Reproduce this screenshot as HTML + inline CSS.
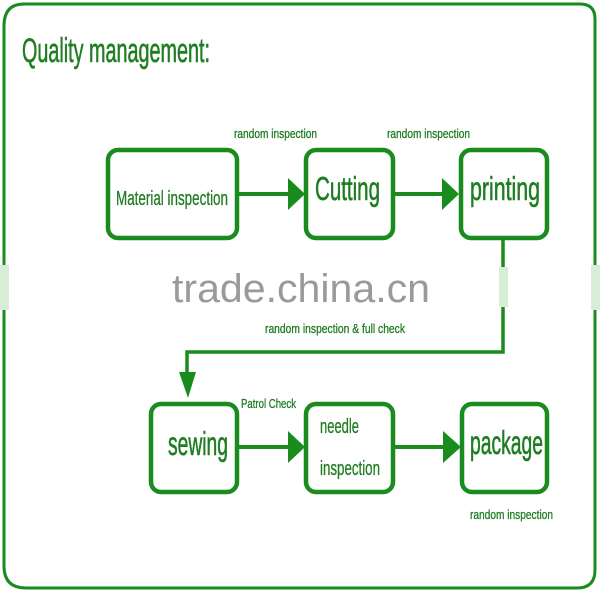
<!DOCTYPE html>
<html><head><meta charset="utf-8"><style>
html,body{margin:0;padding:0;background:#fff;width:600px;height:600px;overflow:hidden}
svg{display:block}
text{font-family:"Liberation Sans Narrow","Liberation Sans",sans-serif;fill:#1f7d22}
.b{stroke:#1f7d22;stroke-width:0.6}
.s{stroke:#1f7d22;stroke-width:0.3}
</style></head><body>
<svg width="600" height="600" viewBox="0 0 600 600" xmlns="http://www.w3.org/2000/svg">
<rect width="600" height="600" fill="#fff"/>
<!-- outer frame -->
<path d="M24 4 H580 Q595 4 595 19 V570 Q595 588 577 588 H26 Q4 588 4 566 V26 Q4 4 24 4 Z" fill="none" stroke="#1a8c1e" stroke-width="3"/>
<!-- title -->
<text class="b" x="22" y="62" font-size="34" textLength="188" lengthAdjust="spacingAndGlyphs">Quality management:</text>

<g fill="none" stroke="#1a8c1e" stroke-width="4.5">
<rect x="108" y="150" width="129" height="88" rx="10"/>
<rect x="306" y="150" width="87" height="88" rx="10"/>
<rect x="461" y="150" width="86" height="88" rx="10"/>
<rect x="151" y="404" width="86" height="88" rx="10"/>
<rect x="306" y="404" width="87" height="88" rx="10"/>
<rect x="462" y="404" width="85" height="88" rx="10"/>
</g>

<!-- connectors -->
<g stroke="#1a8c1e" stroke-width="4" fill="none">
<line x1="238" y1="194" x2="292" y2="194"/>
<line x1="393" y1="194" x2="446" y2="194"/>
<line x1="237" y1="447" x2="292" y2="447"/>
<line x1="393" y1="447" x2="446" y2="447"/>
</g>
<g stroke="#1a8c1e" stroke-width="3.5" fill="none">
<polyline points="503,238 503,352 187,352 187,376"/>
</g>
<g fill="#1a8c1e">
<polygon points="288,178 305,194 288,210"/>
<polygon points="442,178 459,194 442,210"/>
<polygon points="288,431 305,447 288,463"/>
<polygon points="443,431 461,447 443,463"/>
<polygon points="179,372 196,372 188,398"/>
</g>
<!-- watermark fades on lines -->
<rect x="499" y="267" width="9" height="40" fill="#d6edd6"/>
<rect x="0" y="265" width="9" height="45" fill="#d6edd6"/>
<rect x="591" y="265" width="9" height="45" fill="#d6edd6"/>

<!-- node labels -->
<text class="s" x="116" y="205" font-size="20" textLength="112" lengthAdjust="spacingAndGlyphs">Material inspection</text>
<text class="b" x="315" y="200" font-size="33" textLength="65" lengthAdjust="spacingAndGlyphs">Cutting</text>
<text class="b" x="470" y="200" font-size="33" textLength="70" lengthAdjust="spacingAndGlyphs">printing</text>
<text class="b" x="168" y="455" font-size="33" textLength="60" lengthAdjust="spacingAndGlyphs">sewing</text>
<text class="s" x="320" y="433" font-size="20" textLength="39" lengthAdjust="spacingAndGlyphs">needle</text>
<text class="s" x="320" y="475" font-size="20" textLength="60" lengthAdjust="spacingAndGlyphs">inspection</text>
<text class="b" x="470" y="454" font-size="33" textLength="73" lengthAdjust="spacingAndGlyphs">package</text>

<!-- connector labels -->
<text class="s" x="234" y="138" font-size="13" textLength="83" lengthAdjust="spacingAndGlyphs">random inspection</text>
<text class="s" x="387" y="138" font-size="13" textLength="83" lengthAdjust="spacingAndGlyphs">random inspection</text>
<text class="s" x="265" y="333" font-size="13" textLength="140" lengthAdjust="spacingAndGlyphs">random inspection &amp; full check</text>
<text class="s" x="241" y="408" font-size="13" textLength="55" lengthAdjust="spacingAndGlyphs">Patrol Check</text>
<text class="s" x="470" y="519" font-size="13" textLength="83" lengthAdjust="spacingAndGlyphs">random inspection</text>

<!-- watermark -->
<text x="172" y="302" font-size="40" textLength="258" lengthAdjust="spacingAndGlyphs" style="font-family:'Liberation Sans',sans-serif;fill:#9a9a9a">trade.china.cn</text>
</svg>
</body></html>
